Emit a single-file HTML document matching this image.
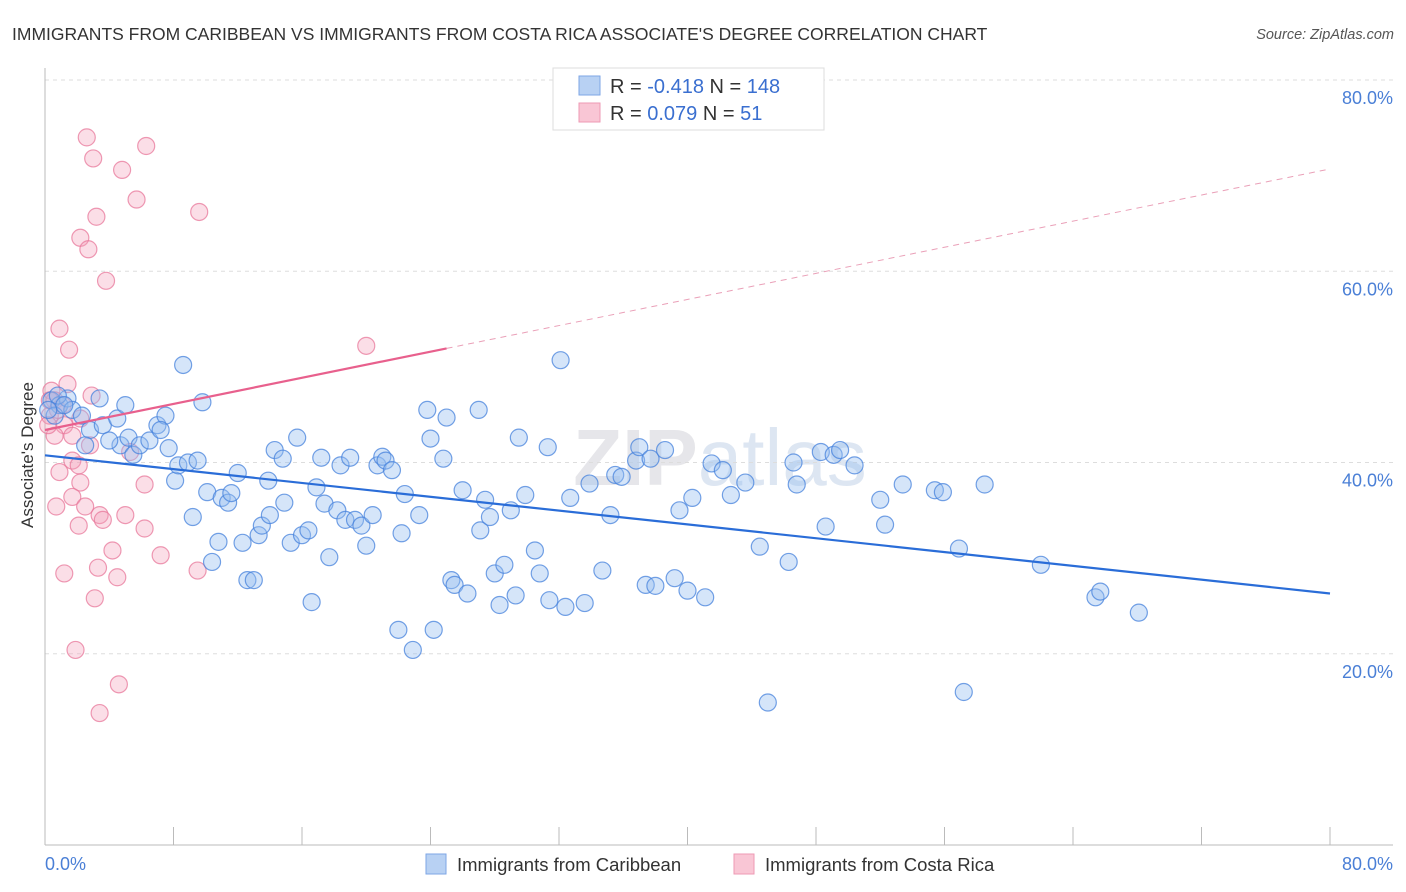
<!DOCTYPE html>
<html><head><meta charset="utf-8"><style>
body{margin:0;background:#fff;font-family:"Liberation Sans",sans-serif}
svg{display:block}
</style></head><body>
<svg id="chart" width="1406" height="892">
<text x="12" y="40" font-size="17.5" fill="#333">IMMIGRANTS FROM CARIBBEAN VS IMMIGRANTS FROM COSTA RICA ASSOCIATE'S DEGREE CORRELATION CHART</text>
<text x="1394" y="39" font-size="14.5" fill="#555" font-style="italic" text-anchor="end">Source: ZipAtlas.com</text>
<text x="720" y="485" font-size="80" fill="#e6e6ea" text-anchor="middle" font-weight="bold">ZIP<tspan fill="#dde6f2" font-weight="normal">atlas</tspan></text>
<g id="grid"></g><g id="marks"></g><g id="trends"></g>
<text transform="translate(33,455) rotate(-90)" font-size="17" fill="#333" text-anchor="middle">Associate's Degree</text>
<g>
<rect x="553" y="68" width="271" height="62" fill="#fff" stroke="#ddd"/>
<rect x="579" y="76" width="21" height="19" fill="#b8d1f3" stroke="#7ea6e6"/>
<rect x="579" y="103" width="21" height="19" fill="#f9c6d5" stroke="#ee9ab4"/>
<text x="610" y="93" font-size="20" fill="#333">R = <tspan fill="#3a6fd0">-0.418</tspan>   N = <tspan fill="#3a6fd0">148</tspan></text>
<text x="610" y="120" font-size="20" fill="#333">R = <tspan fill="#3a6fd0"> 0.079</tspan>   N = <tspan fill="#3a6fd0">  51</tspan></text>
</g>
<g>
<rect x="426" y="854" width="20" height="20" fill="#b8d1f3" stroke="#7ea6e6"/>
<text x="457" y="871" font-size="18.5" fill="#333">Immigrants from Caribbean</text>
<rect x="734" y="854" width="20" height="20" fill="#f9c6d5" stroke="#ee9ab4"/>
<text x="765" y="871" font-size="18.5" fill="#333">Immigrants from Costa Rica</text>
</g>
</svg>
<script>
const blueX=[.4,.9,1.4,1.7,2.3,2.8,3.4,3.6,4.5,4.7,5.2,5.5,5.9,6.5,7.0,7.5,7.2,7.7,8.1,8.3,8.6,8.9,9.2,9.5,9.8,10.1,10.4,10.8,11.0,11.4,11.6,12.0,12.3,12.6,13.0,13.3,13.5,13.9,14.0,14.3,14.8,14.9,15.3,15.7,16.0,16.4,16.6,16.9,17.2,17.4,17.7,18.2,18.4,18.7,19.0,19.3,19.7,20.0,20.4,20.7,21.0,21.2,21.6,22.0,22.2,22.4,22.9,23.3,23.8,24.0,24.2,24.8,25.0,25.3,25.5,26.0,26.3,27.0,27.1,27.4,27.7,28.0,28.3,28.6,29.0,29.3,29.5,29.9,30.5,30.8,31.3,31.4,32.1,32.4,32.7,33.6,33.9,34.7,35.2,35.5,35.9,36.8,37.0,37.4,37.7,38.0,38.6,39.2,39.5,40.0,40.3,41.1,41.5,42.2,42.7,43.6,44.5,45.0,46.3,46.6,46.8,48.3,48.6,49.1,49.5,50.4,52.0,52.3,53.4,55.4,55.9,56.9,57.2,58.5,62.0,65.4,65.7,68.1,.6,.8,1.2,.2,2.5,4.0,5.0];
const blueY=[46.5,46.0,46.7,45.5,44.9,43.4,46.7,43.9,44.6,41.8,42.6,40.8,41.8,42.3,43.9,44.9,43.4,41.5,38.1,39.7,50.2,40.0,34.3,40.2,46.3,36.9,29.6,31.7,36.3,35.8,36.8,38.9,31.6,27.7,27.7,32.4,33.4,38.1,34.5,41.3,40.4,35.8,31.6,42.6,32.4,32.9,25.4,37.4,40.5,35.7,30.1,35.0,39.7,34.0,40.5,34.0,33.4,31.3,34.5,39.7,40.6,40.2,39.2,22.5,32.6,36.7,20.4,34.5,45.5,42.5,22.5,40.4,44.7,27.7,27.2,37.1,26.3,45.5,32.9,36.1,34.3,28.4,25.1,29.3,35.0,26.1,42.6,36.6,30.8,28.4,41.6,25.6,50.7,24.9,36.3,25.3,37.8,28.7,34.5,38.7,38.5,40.2,41.6,27.2,40.4,27.1,41.3,27.9,35.0,26.6,36.3,25.9,39.9,39.2,36.6,37.9,31.2,14.9,29.6,40.0,37.7,41.1,33.3,40.8,41.3,39.7,36.1,33.5,37.7,37.1,36.9,31.0,16.0,37.7,29.3,25.9,26.5,24.3,44.9,47.0,46.0,45.5,41.8,42.3,46.0];
const pinkX=[2.6,3.0,6.3,4.8,5.7,9.6,3.2,2.2,2.7,3.8,.9,1.5,20.0,1.4,.4,2.9,.6,1.1,.3,2.2,1.2,.6,1.7,2.8,5.3,1.7,.9,2.1,2.2,6.2,1.7,.7,2.5,3.4,5.0,3.6,2.1,6.2,4.2,7.2,3.3,1.2,4.5,9.5,3.1,1.9,4.6,3.4,.3,.8,.2];
const pinkY=[74.0,71.8,73.1,70.6,67.5,66.2,65.7,63.5,62.3,59.0,54.0,51.8,52.2,48.2,47.5,47.0,46.5,46.0,44.9,44.6,43.9,42.8,42.8,41.8,41.1,40.2,39.0,39.7,37.9,37.7,36.4,35.4,35.4,34.5,34.5,34.0,33.4,33.1,30.8,30.3,29.0,28.4,28.0,28.7,25.8,20.4,16.8,13.8,46.5,45.5,43.9];
const blueTrend=[40.75,26.3];
const pinkTrend=[43.4,70.7];
const pinkSolidEnd=25;
const yTicks=[20,40,60,80];
const yTickLabels=["20.0%","40.0%","60.0%","80.0%"];
const xTicks=[0,10,20,30,40,50,60,70,80,90,100];

const NS="http://www.w3.org/2000/svg";
const X0=45,X1=1330,Y0=845,Y80=80;
const sx=v=>X0+(X1-X0)*v/80;
const sy=v=>Y0-(Y0-Y80)*v/80;
function mk(tag,attrs,parent){const e=document.createElementNS(NS,tag);for(const k in attrs)e.setAttribute(k,attrs[k]);parent.appendChild(e);return e;}
const grid=document.getElementById('grid'),marks=document.getElementById('marks'),trends=document.getElementById('trends');
yTicks.forEach((t,i)=>{
  const l=mk('line',{x1:X0,x2:1393,y1:sy(t),y2:sy(t),stroke:'#ddd','stroke-dasharray':'4,4'},grid);
  
  
  const tx=mk('text',{x:1393,y:sy(t)+24,'font-size':18,fill:'#4a7fd6','text-anchor':'end'},grid);
  tx.textContent=yTickLabels[i];
  
  
});
const ax=mk('line',{x1:X0,x2:1393,y1:Y0,y2:Y0,stroke:'#bbb'},grid);


const ay=mk('line',{x1:X0,x2:X0,y1:68,y2:Y0,stroke:'#bbb'},grid);


xTicks.forEach(t=>{
  const l=mk('line',{x1:sx(t*0.8),x2:sx(t*0.8),y1:Y0-18,y2:Y0,stroke:'#bbb'},grid);
  
  
});
const xl0=mk('text',{x:45,y:870,'font-size':18,fill:'#4a7fd6'},grid);xl0.textContent='0.0%';


const xl1=mk('text',{x:1393,y:870,'font-size':18,fill:'#4a7fd6','text-anchor':'end'},grid);xl1.textContent='80.0%';


pinkX.forEach((x,i)=>{
  const c=mk('circle',{cx:sx(x),cy:sy(pinkY[i]),r:8.5,fill:'rgba(244,160,186,0.35)',stroke:'rgba(232,120,155,0.75)','stroke-width':1.2},marks);
  
  
});
blueX.forEach((x,i)=>{
  const c=mk('circle',{cx:sx(x),cy:sy(blueY[i]),r:8.5,fill:'rgba(150,190,240,0.4)',stroke:'rgba(70,130,220,0.75)','stroke-width':1.2},marks);
  
  
});
const bt=mk('line',{x1:sx(0),y1:sy(blueTrend[0]),x2:sx(80),y2:sy(blueTrend[1]),stroke:'#2a6dd8','stroke-width':2.2},trends);


const pAt=x=>pinkTrend[0]+(pinkTrend[1]-pinkTrend[0])*x/80;
const pt=mk('line',{x1:sx(0),y1:sy(pAt(0)),x2:sx(pinkSolidEnd),y2:sy(pAt(pinkSolidEnd)),stroke:'#e8608d','stroke-width':2.2},trends);


const pd=mk('line',{x1:sx(pinkSolidEnd),y1:sy(pAt(pinkSolidEnd)),x2:sx(80),y2:sy(pAt(80)),stroke:'#eaa0b8','stroke-width':1,'stroke-dasharray':'6,5'},trends);


</script>
</body></html>
